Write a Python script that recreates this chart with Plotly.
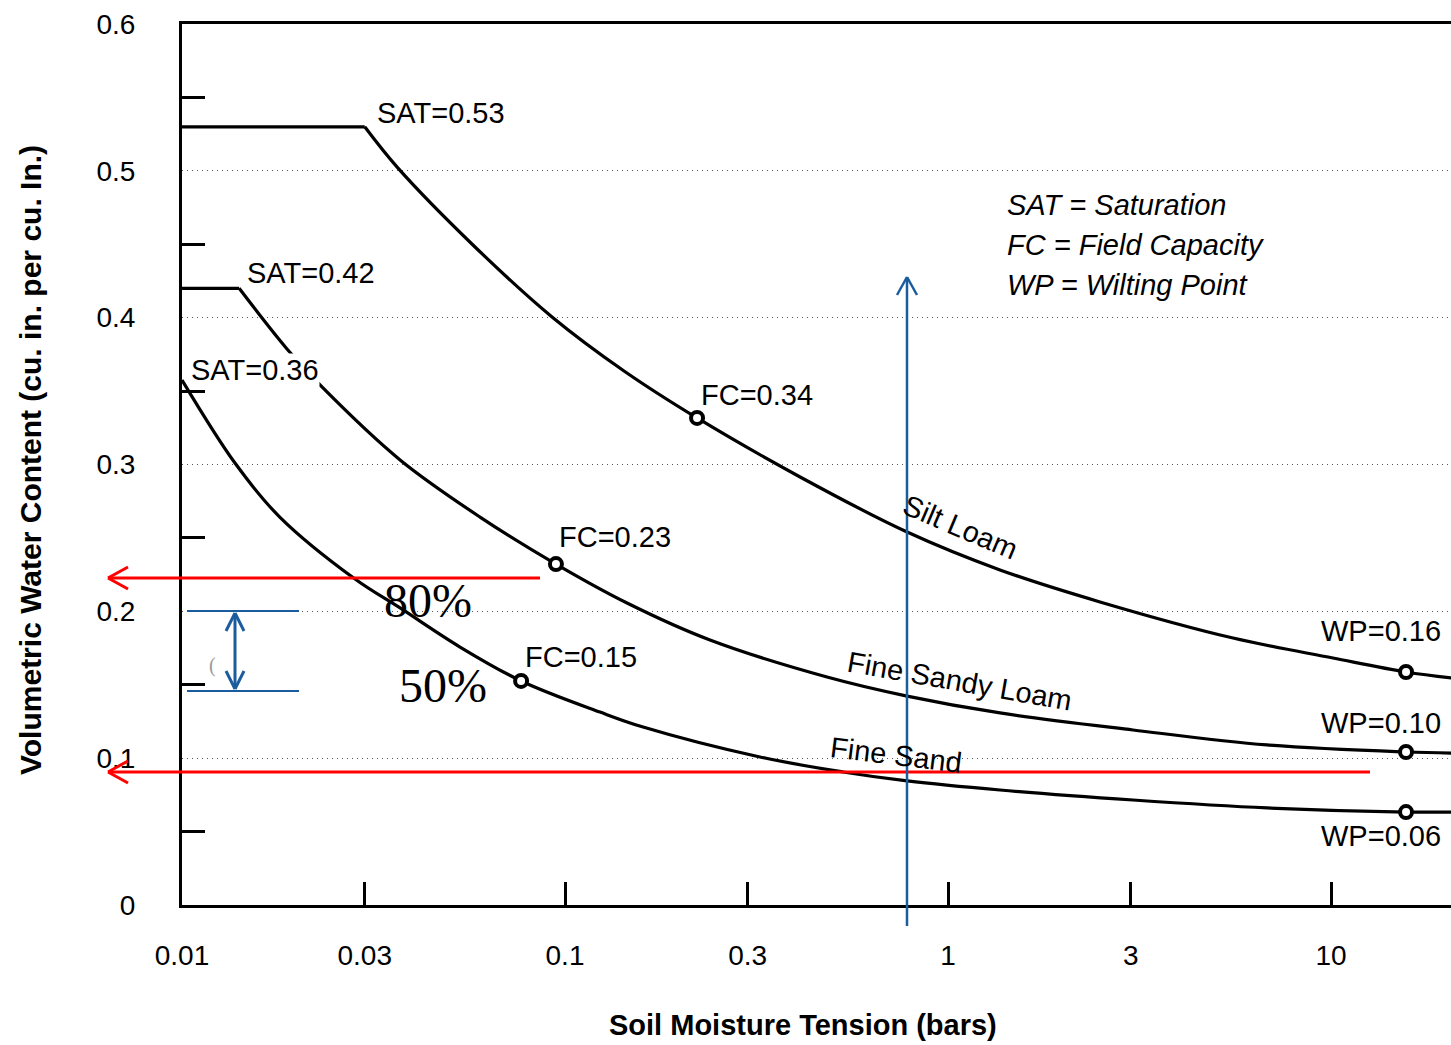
import plotly.graph_objects as go

# ---------------- data ----------------
silt_x = [0.01, 0.0300, 0.0366, 0.0575, 0.0925, 0.1426, 0.2212, 0.411, 0.782, 1.367, 2.494, 5.55, 10.12, 15.7, 20.6]
silt_y = [0.53, 0.53, 0.502, 0.4495, 0.4005, 0.3637, 0.3317, 0.2915, 0.254, 0.2282, 0.2064, 0.1818, 0.1682, 0.1587, 0.1546]

fsl_x = [0.01, 0.0141, 0.0188, 0.0232, 0.0371, 0.0600, 0.0947, 0.1452, 0.2391, 0.4832, 0.782, 1.367, 3.041, 6.806, 15.7, 20.6]
fsl_y = [0.42, 0.42, 0.3787, 0.3528, 0.3031, 0.2642, 0.2322, 0.2057, 0.1805, 0.1553, 0.1423, 0.1308, 0.1192, 0.109, 0.1042, 0.1035]

fs_x = [0.01, 0.01375, 0.0180, 0.0283, 0.0371, 0.0532, 0.0768, 0.1234, 0.1599, 0.3229, 0.5319, 0.782, 1.367, 3.041, 6.806, 15.7, 20.6]
fs_y = [0.3575, 0.301, 0.2642, 0.222, 0.2023, 0.1757, 0.1526, 0.1314, 0.1212, 0.1008, 0.0906, 0.0845, 0.0783, 0.0715, 0.0661, 0.0633, 0.0633]

point_x = [0.2212, 15.7, 0.0947, 15.7, 0.0768, 15.7]
point_y = [0.3317, 0.1587, 0.2322, 0.1042, 0.1526, 0.0633]

x_tickvals = [0.01, 0.03, 0.1, 0.3, 1, 3, 10]
x_ticktext = ["0.01", "0.03", "0.1", "0.3", "1", "3", "10"]
y_tickvals = [0, 0.1, 0.2, 0.3, 0.4, 0.5, 0.6]
y_ticktext = ["0", "0.1", "0.2", "0.3", "0.4", "0.5", "0.6"]
y_minorvals = [0.05, 0.15, 0.25, 0.35, 0.45, 0.55]

level_80 = 0.2227
level_50 = 0.0906

# ---------------- layout helpers (pixel -> paper) ----------------
W, H = 1451, 1045
L_M, R_M, T_M, B_M = 182, 0, 24, 140
PW, PH = W - L_M - R_M, H - T_M - B_M


def X(px):
    return (px - L_M) / PW


def Y(py):
    return (H - B_M - py) / PH


FONT = "Liberation Sans, Arial, sans-serif"
SERIF = "Liberation Serif, DejaVu Serif, serif"
BLUE = "#1b5c9e"
RED = "#ff0000"

fig = go.Figure()


def add_curve(xs, ys, flat):
    if flat:
        fig.add_trace(go.Scatter(x=xs[:2], y=ys[:2], mode="lines",
                                 line=dict(color="black", width=3.2), showlegend=False,
                                 hoverinfo="skip"))
        xs, ys = xs[1:], ys[1:]
    fig.add_trace(go.Scatter(x=xs, y=ys, mode="lines",
                             line=dict(color="black", width=3.2, shape="spline", smoothing=1.0),
                             showlegend=False, hoverinfo="skip"))


add_curve(silt_x, silt_y, True)
add_curve(fsl_x, fsl_y, True)
add_curve(fs_x, fs_y, False)

fig.add_trace(go.Scatter(x=point_x, y=point_y, mode="markers",
                         marker=dict(symbol="circle", size=12, color="white",
                                     line=dict(color="black", width=4)),
                         showlegend=False, hoverinfo="skip"))

# ---------------- annotations ----------------
ann = []


def text(t, px, py, size=29, xanchor="left", angle=0, font=FONT, color="black",
         italic=False, bold=False, bg=None):
    d = dict(text=("<b>%s</b>" % t) if bold else t, x=X(px), y=Y(py), xref="paper", yref="paper",
             xanchor=xanchor, yanchor="middle", showarrow=False, textangle=angle,
             font=dict(family=font, size=size, color=color,
                       style="italic" if italic else "normal"),
             borderpad=0)
    if bg:
        d["bgcolor"] = bg
    ann.append(d)


text("SAT=0.53", 376, 113)
text("SAT=0.42", 246, 273)
text("SAT=0.36", 190, 370, bg="white")
text("FC=0.34", 700, 395)
text("FC=0.23", 558, 537)
text("FC=0.15", 524, 657)
text("WP=0.16", 1442, 631, xanchor="right")
text("WP=0.10", 1442, 723, xanchor="right")
text("WP=0.06", 1442, 836, xanchor="right")

text("Silt Loam", 960, 527, xanchor="center", angle=23)
text("Fine Sandy Loam", 959, 681, xanchor="center", angle=10)
text("Fine Sand", 896, 755, xanchor="center", angle=7)

text("SAT = Saturation", 1006, 205, italic=True)
text("FC = Field Capacity", 1006, 245, italic=True)
text("WP = Wilting Point", 1006, 285, italic=True)

text("80%", 428, 600, size=48, xanchor="center", font=SERIF)
text("50%", 443, 685, size=48, xanchor="center", font=SERIF)
text("(", 212, 665, size=20, xanchor="center", font=SERIF, color="#999999")

text("Soil Moisture Tension (bars)", 803, 1025, size=29, xanchor="center", bold=True)
text("Volumetric Water Content (cu. in. per cu. In.)", 30, 460, size=30, xanchor="center",
     angle=-90, bold=True)

fig.update_layout(annotations=ann)

# ---------------- arrow shapes ----------------
shapes = []


def seg(x0, y0, x1, y1, color, width):
    shapes.append(dict(type="line", xref="paper", yref="paper",
                       x0=X(x0), y0=Y(y0), x1=X(x1), y1=Y(y1),
                       line=dict(color=color, width=width), layer="above"))


def level_y(v):
    return H - B_M - v / 0.6 * PH


# red arrows
for v, xr in [(level_80, 540), (level_50, 1370)]:
    py = level_y(v)
    seg(xr, py, 108, py, RED, 3)
    seg(108, py, 128, py - 11, RED, 3)
    seg(108, py, 128, py + 11, RED, 3)

# blue vertical arrow
seg(907, 926, 907, 277, BLUE, 2.5)
seg(907, 277, 897, 295, BLUE, 2.5)
seg(907, 277, 917, 295, BLUE, 2.5)

# blue double arrow with bounding lines
seg(187, 611, 299, 611, BLUE, 2)
seg(187, 691, 299, 691, BLUE, 2)
seg(235, 613, 235, 689, BLUE, 3)
seg(235, 613, 226, 631, BLUE, 3)
seg(235, 613, 244, 631, BLUE, 3)
seg(235, 689, 226, 671, BLUE, 3)
seg(235, 689, 244, 671, BLUE, 3)

fig.update_layout(shapes=shapes)

# ---------------- axes ----------------
fig.update_xaxes(type="log", range=[-2, -2 + PW / 383.0],
                 tickmode="array", tickvals=x_tickvals, ticktext=x_ticktext,
                 ticks="inside", ticklen=23, tickwidth=3, tickcolor="black",
                 ticklabelstandoff=23,
                 tickfont=dict(family=FONT, size=28, color="black"),
                 showline=True, linecolor="black", linewidth=3, mirror=True,
                 showgrid=False, zeroline=False)
fig.update_yaxes(range=[0, 0.6],
                 tickmode="array", tickvals=y_tickvals, ticktext=y_ticktext,
                 ticks="", ticklabelstandoff=38,
                 tickfont=dict(family=FONT, size=28, color="black"),
                 showline=True, linecolor="black", linewidth=3, mirror=False,
                 showgrid=True, gridcolor="#555555", gridwidth=1.2, griddash="1px,4px",
                 zeroline=False,
                 minor=dict(tickmode="array", tickvals=y_minorvals, ticks="inside",
                            ticklen=23, tickwidth=3, tickcolor="black", showgrid=False))

fig.update_layout(width=W, height=H,
                  margin=dict(l=L_M, r=R_M, t=T_M, b=B_M, pad=0, autoexpand=False),
                  plot_bgcolor="white", paper_bgcolor="white",
                  showlegend=False)

fig.write_html("out.html", config={"displayModeBar": False},
               post_script="document.body.style.margin='0';document.body.style.overflow='hidden';")
